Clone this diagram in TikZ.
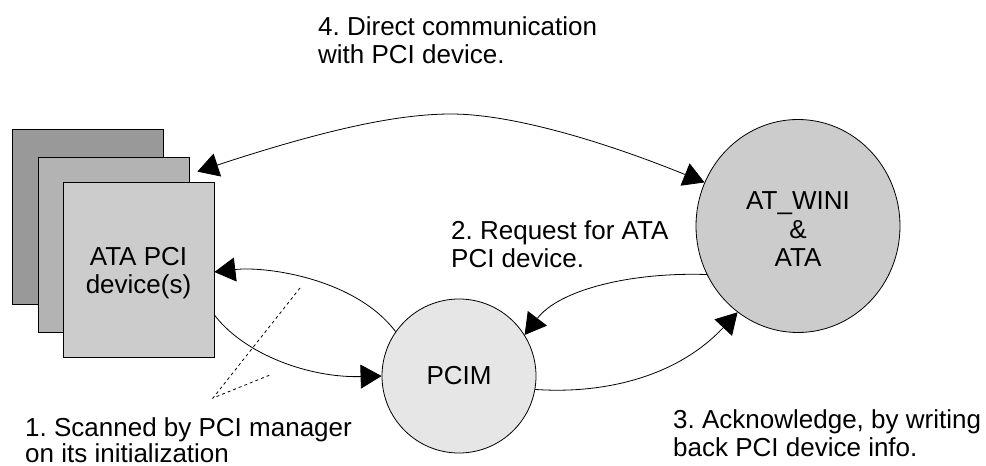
\documentclass[tikz,border=0pt]{standalone}
\usepackage{fontspec}
\setmainfont{Liberation Sans}
\usetikzlibrary{shapes.geometric,arrows.meta}
\definecolor{gA}{HTML}{999999}
\definecolor{gB}{HTML}{B3B3B3}
\definecolor{gC}{HTML}{CCCCCC}
\definecolor{gD}{HTML}{E6E6E6}
\frenchspacing
\begin{document}
\begin{tikzpicture}[x=1pt,y=-1pt,
  card/.style={draw=black,line width=0.8pt,minimum width=151pt,minimum height=175pt,inner sep=0pt,align=center},
  proc/.style={ellipse,draw=black,line width=0.8pt,inner sep=0pt,align=center},
  lbl/.style={align=left,inner sep=0pt},
  arr/.style={line width=0.8pt,-{Triangle[length=21pt,width=24pt]}},
  barr/.style={line width=0.8pt,{Triangle[length=21pt,width=24pt]}-{Triangle[length=21pt,width=24pt]}},
  every node/.style={font=\fontsize{26}{28.5}\selectfont}]
\useasboundingbox (0,0) rectangle (986,466);
\node[card,fill=gA] (back) at (88,217) {};
\node[card,fill=gB] (mid) at (113.5,244.5) {};
\node[card,fill=gC] (front) at (138.5,269.5) {\rule{0pt}{25pt}ATA PCI\\device(s)};
\node[proc,fill=gD,minimum width=154pt,minimum height=154pt] (pcim) at (459,376) {PCIM};
\node[proc,fill=gC,minimum width=204pt,minimum height=213pt] (atw) at (798,226) {\rule{0pt}{24pt}AT\_WINI\\\&\\ATA};
% labels
\node[lbl,anchor=north west] (l4) at (318,16) {4. Direct communication\\with PCI device.};
\node[lbl,anchor=north west] (l2) at (451,220) {2. Request for ATA\\PCI device.};
\node[lbl,anchor=north west] (l3) at (673,409) {3. Acknowledge, by writing\\back PCI device info.};
\node[lbl,anchor=north west,font=\fontsize{26}{26}\selectfont] (l1) at (25,417) {1. Scanned by PCI manager\\on its initialization};
% connectors
\draw[arr] (pcim.145) .. controls (355,278) and (265,266) .. ([yshift=-2.5pt]front.east);
\draw[arr] ([yshift=-45.5pt]front.east) .. controls (245,355) and (310,378) .. (pcim.west);
\draw[arr] (atw.208) .. controls (630,272) and (559,290) .. (pcim.32);
\draw[arr] (pcim.-10) .. controls (600,394) and (675,379) .. (atw.235);
\coordinate (tl) at ([xshift=8pt,yshift=-15pt]mid.north east);
\coordinate (peak) at (451,114);
\draw[barr] (tl) .. controls (330,128) and (400,114) .. (peak) .. controls (510,114) and (600,140) .. (atw.155);
% dashed pointer
\coordinate (dA) at (300,288);
\coordinate (dB) at (270,375);
\coordinate (dC) at (213,398);
\draw[dashed,line width=0.8pt] (dA) -- (dC) -- (dB);
\end{tikzpicture}
\end{document}
